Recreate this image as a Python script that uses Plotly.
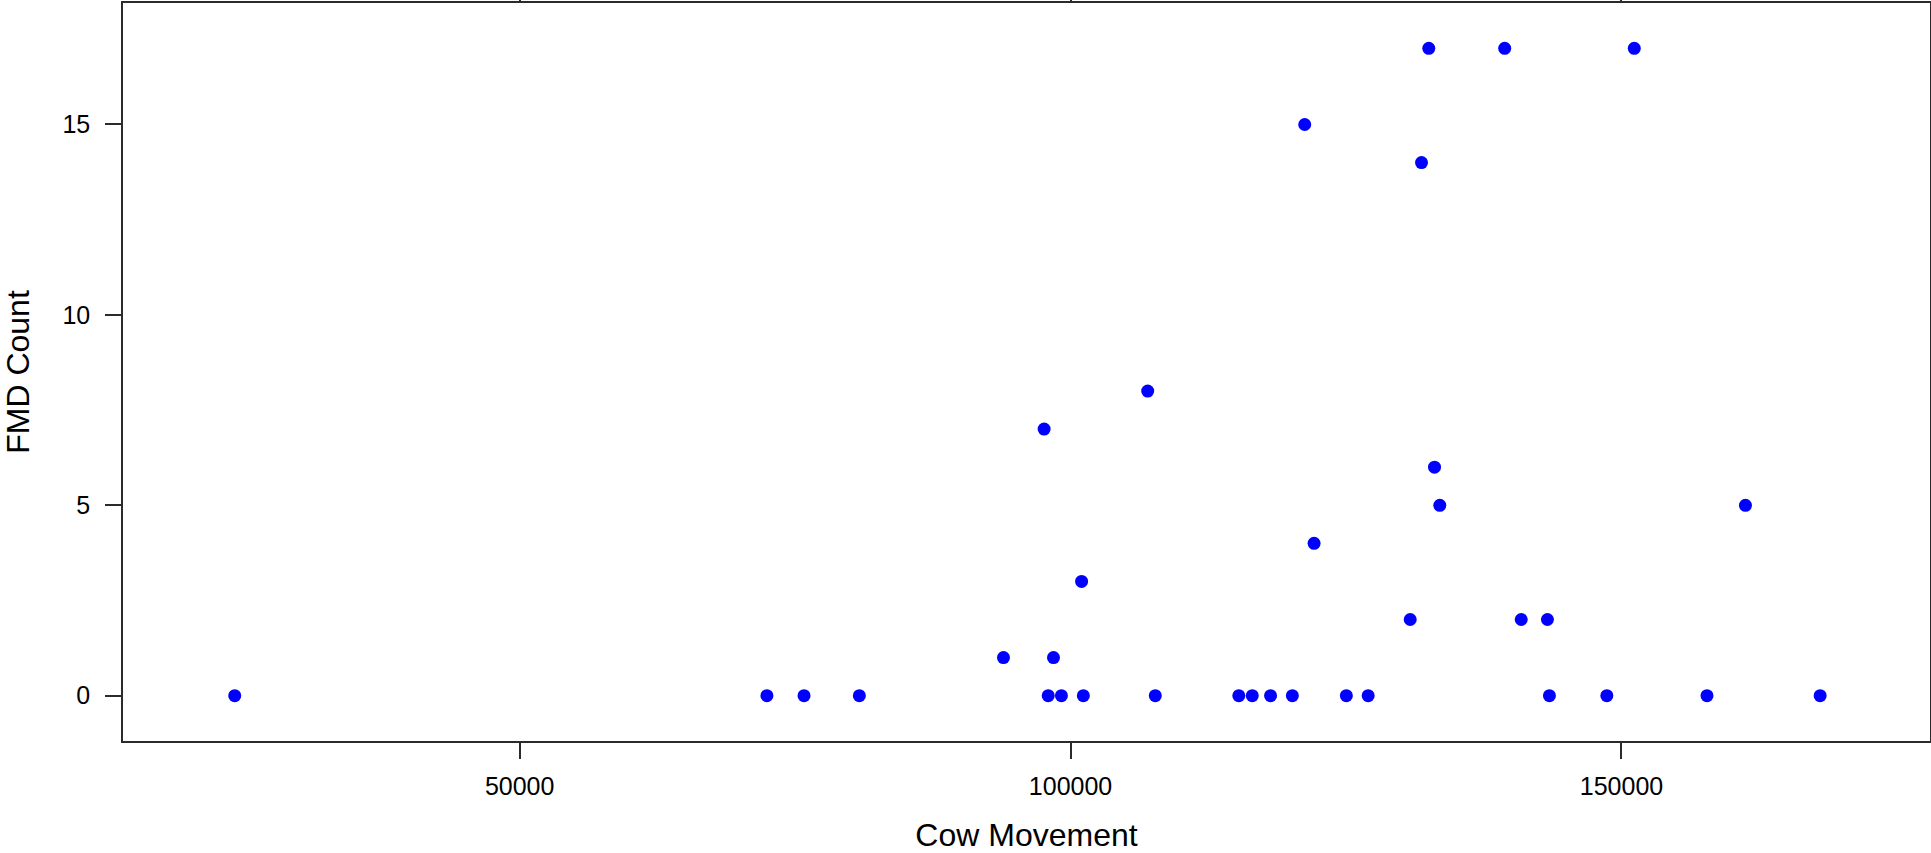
import plotly.graph_objects as go

# Cow movement vs. FMD count
cow_movement = [
    24140, 72440, 75810, 80830, 97970, 99170, 101160, 107690, 115270,
    116490, 118150, 120130, 125030, 127010, 143460, 148670, 157760, 168030,
    93910, 98450,
    130825, 140900, 143280,
    101000,
    122100,
    133510, 161250,
    133030,
    97600,
    107000,
    131850,
    121250,
    132510, 139400, 151160,
]
fmd_count = [
    0, 0, 0, 0, 0, 0, 0, 0, 0,
    0, 0, 0, 0, 0, 0, 0, 0, 0,
    1, 1,
    2, 2, 2,
    3,
    4,
    5, 5,
    6,
    7,
    8,
    14,
    15,
    17, 17, 17,
]

x_ticks = [50000, 100000, 150000]
y_ticks = [0, 5, 10, 15]

fig = go.Figure(
    go.Scatter(
        x=cow_movement,
        y=fmd_count,
        mode="markers",
        marker=dict(color="#0000ff", size=13, line=dict(width=0)),
        hoverinfo="x+y",
    )
)

axis_common = dict(
    automargin=False,
    showgrid=False,
    zeroline=False,
    showline=True,
    linecolor="#2b2b2b",
    linewidth=1.5,
    mirror="ticks",
    ticks="outside",
    ticklen=16,
    tickwidth=1.5,
    tickcolor="#2b2b2b",
    tickfont=dict(family="Liberation Sans, Arial, sans-serif", size=25, color="#000000"),
)

fig.update_layout(
    width=1931,
    height=853,
    margin=dict(l=123, r=1, t=3, b=112),
    paper_bgcolor="white",
    plot_bgcolor="white",
    showlegend=False,
    font=dict(family="Liberation Sans, Arial, sans-serif", color="#000000"),
    xaxis=dict(
        range=[14000, 178000],
        tickvals=x_ticks,
        ticktext=[str(v) for v in x_ticks],
        ticklabelstandoff=6,
        title=dict(text="Cow Movement", font=dict(size=32), standoff=26),
        **axis_common,
    ),
    yaxis=dict(
        range=[-1.19, 18.19],
        tickvals=y_ticks,
        ticktext=[str(v) for v in y_ticks],
        ticklabelstandoff=10,
        title=dict(text="FMD Count", font=dict(size=32), standoff=24),
        **axis_common,
    ),
)

fig.write_html("out.html")
